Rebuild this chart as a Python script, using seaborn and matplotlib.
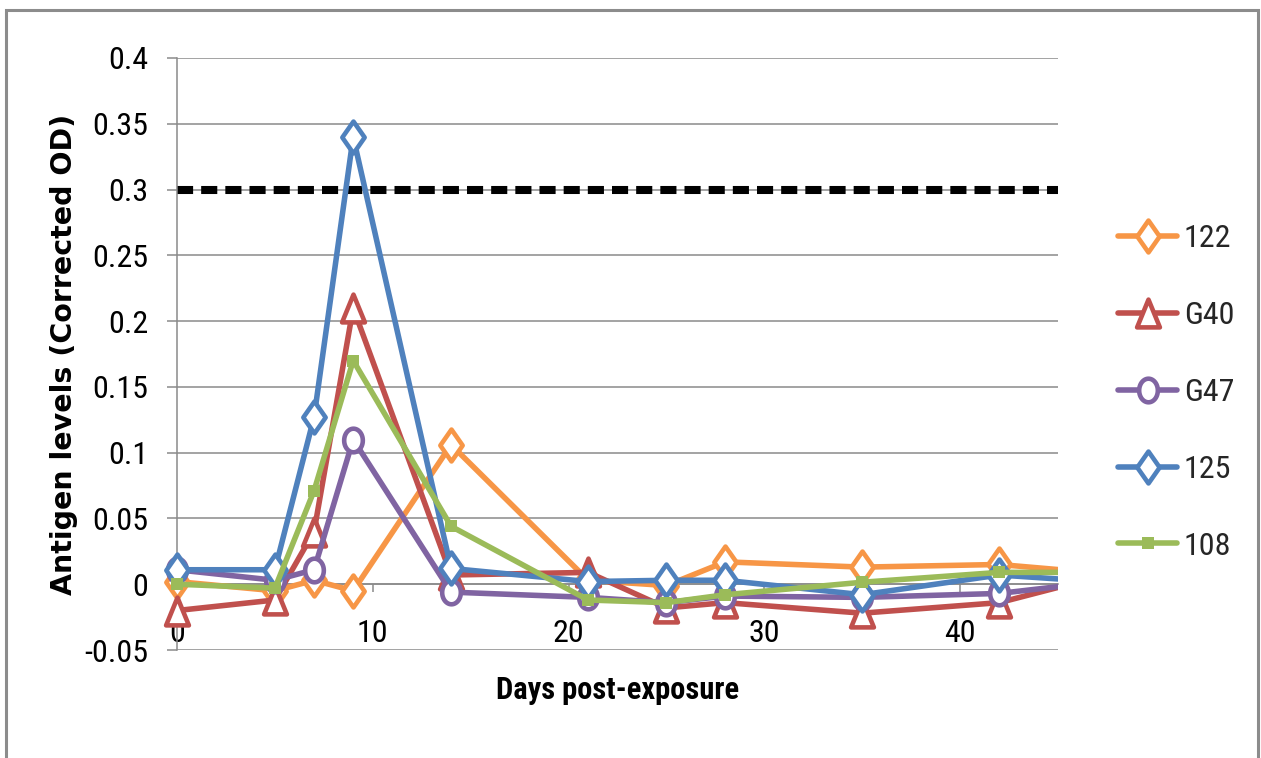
import numpy as np
import pandas as pd
import matplotlib
matplotlib.use("Agg")
import matplotlib.pyplot as plt
import seaborn as sns
from matplotlib.path import Path
from matplotlib.patches import Rectangle
from matplotlib import font_manager

# ---------------- data ----------------
days = [0, 5, 7, 9, 14, 21, 25, 28, 35, 42, 49]
s122 = [0.002, -0.005, 0.003, -0.005, 0.106, 0.003, -0.001, 0.017, 0.013, 0.015, 0.006]
sG40 = [-0.020, -0.012, 0.040, 0.210, 0.007, 0.009, -0.018, -0.014, -0.022, -0.014, 0.013]
sG47 = [0.011, 0.003, 0.011, 0.110, -0.006, -0.010, -0.014, -0.009, -0.010, -0.007, 0.005]
s125 = [0.011, 0.011, 0.127, 0.340, 0.012, 0.002, 0.003, 0.003, -0.008, 0.007, 0.000]
s108 = [0.000, -0.003, 0.071, 0.170, 0.044, -0.012, -0.014, -0.008, 0.0015, 0.009, 0.009]
series_names = ["122", "G40", "G47", "125", "108"]
series_values = [s122, sG40, sG47, s125, s108]
threshold = 0.3
x_ticks = [0, 10, 20, 30, 40]
y_ticks = [-0.05, 0.0, 0.05, 0.1, 0.15, 0.2, 0.25, 0.3, 0.35, 0.4]
y_tick_labels = ["-0.05", "0", "0.05", "0.1", "0.15", "0.2", "0.25", "0.3", "0.35", "0.4"]
x_label = "Days post-exposure"
y_label = "Antigen levels (Corrected OD)"

df = pd.DataFrame({
    "day": np.tile(days, len(series_names)),
    "value": np.concatenate(series_values),
    "series": np.repeat(series_names, len(days)),
})

# ---------------- styles ----------------
colors = {"122": "#F79646", "G40": "#C0504D", "G47": "#8064A2",
          "125": "#4F81BD", "108": "#9BBB59"}

def diamond(r):
    return Path([(0, 1), (r, 0), (0, -1), (-r, 0), (0, 1)], closed=True)

def triangle(r):
    return Path([(0, 1), (r, -1), (-r, -1), (0, 1)], closed=True)

def ellipse(r):
    t = np.linspace(0, 2 * np.pi, 60)
    v = np.column_stack([r * np.sin(t), np.cos(t)])
    return Path(v, closed=True)

marker_style = {
    "122": dict(marker=diamond(0.70), ms=23, mfc="white", mew=3.3),
    "G40": dict(marker=triangle(0.82), ms=20, mfc="white", mew=3.3),
    "G47": dict(marker=ellipse(0.79), ms=17, mfc="white", mew=3.3),
    "125": dict(marker=diamond(0.70), ms=23, mfc="white", mew=3.3),
    "108": dict(marker="s", ms=8, mew=0),
}

sns.set_theme(style="white")
installed = {f.name for f in font_manager.fontManager.ttflist}
narrow_pref = ["Liberation Sans Narrow", "Roboto Condensed", "Open Sans Condensed",
               "Noto Sans Condensed", "Liberation Sans"]
narrow_font = next((f for f in narrow_pref if f in installed), "DejaVu Sans")
is_condensed = narrow_font != "Liberation Sans" and narrow_font != "DejaVu Sans"
narrow = [narrow_font, "DejaVu Sans"]
plt.rcParams["font.family"] = narrow
tick_fs = 23 if is_condensed else 20

W, H = 1261, 758
fig = plt.figure(figsize=(W / 100, H / 100), dpi=100)
fig.patch.set_facecolor("white")
ax = fig.add_axes([177 / W, 1 - 650 / H, (1058 - 177) / W, (650 - 58) / H])
ax.set_facecolor("white")

grid_c = "#8a8a8a"
ax.set_xlim(0, 45)
ax.set_ylim(-0.05, 0.4)
ax.set_yticks(y_ticks)
ax.set_yticklabels(y_tick_labels)
ax.set_xticks(x_ticks)
ax.set_xticklabels([str(t) for t in x_ticks])
ax.yaxis.grid(True, color=grid_c, lw=1.1)
ax.xaxis.grid(False)
ax.set_axisbelow(True)

# threshold line
ax.axhline(threshold, color="black", lw=5.8, dashes=(2.0, 1.0), zorder=2.5)

for name in series_names:
    sub = df[df["series"] == name]
    st = marker_style[name]
    c = colors[name]
    sns.lineplot(data=sub, x="day", y="value", ax=ax, color=c, lw=4.0,
                 marker=st["marker"], ms=st["ms"], mfc=st.get("mfc", c),
                 mec=c, mew=st["mew"], label=name, estimator=None,
                 sort=True, legend=False, zorder=3)

clip = Rectangle((-0.1, -0.3), 1.1, 1.6, transform=ax.transAxes)
for ln in ax.lines:
    ln.set_clip_path(clip)

for s in ["top", "right"]:
    ax.spines[s].set_visible(False)
ax.spines["left"].set_color(grid_c)
ax.spines["left"].set_linewidth(1.1)
ax.spines["bottom"].set_color(grid_c)
ax.spines["bottom"].set_linewidth(1.1)
ax.spines["bottom"].set_position(("data", 0))

ax.tick_params(axis="y", direction="out", length=7.2, width=1.1, color=grid_c,
               pad=13.5, labelsize=tick_fs, labelcolor="black", left=True)
ax.tick_params(axis="x", direction="out", length=6, width=1.1, color=grid_c,
               pad=19, labelsize=tick_fs, labelcolor="black", bottom=True)

ax.set_xlabel(x_label, fontsize=22 if is_condensed else 19, fontweight="bold",
              color="black", family=narrow)
ax.xaxis.set_label_coords(0.5, -0.042)
ax.set_ylabel(y_label, fontsize=20.5, fontweight="bold", color="black",
              family=["DejaVu Sans"])
ax.yaxis.set_label_coords(-0.112, 0.5)

handles = [l for l in ax.lines if l.get_label() in series_names]
ax.legend(handles=handles, labels=[h.get_label() for h in handles],
          loc="upper left", bbox_to_anchor=(1118 / W, 1 - 224 / H),
          bbox_transform=fig.transFigure, frameon=False, borderpad=0,
          borderaxespad=0, handlelength=1.86, handletextpad=0.2,
          labelspacing=1.5 if tick_fs == 23 else 1.8,
          prop={"size": tick_fs, "family": narrow})

# outer gray frame
fig.patches.append(Rectangle((6 / W, -0.05), (1258 - 6) / W, (1 - 10 / H) + 0.05,
                             transform=fig.transFigure, fill=False,
                             edgecolor="#8c8c8c", lw=2.2))

fig.savefig("out.png", dpi=100, facecolor="white")
